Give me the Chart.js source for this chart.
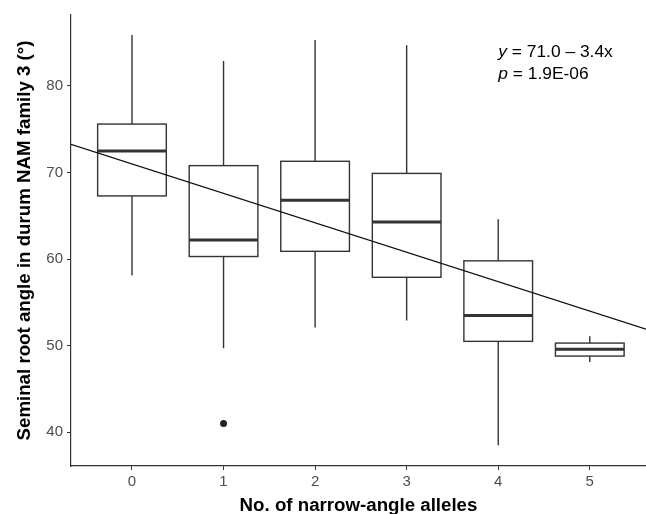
<!DOCTYPE html>
<html>
<head>
<meta charset="utf-8">
<script src="https://cdn.jsdelivr.net/npm/chart.js@4.4.0/dist/chart.umd.min.js"></script>
<style>
  body { margin: 0; background: #fff; }
  canvas { display: block; }
</style>
</head>
<body>
<canvas id="myChart" width="646" height="514"></canvas>
<script>
// number of narrow-angle alleles
var categories = ['0', '1', '2', '3', '4', '5'];
// box statistics per group
var whiskerLow  = [58.1, 49.7, 52.1, 52.9, 38.5, 48.1];
var q1          = [67.3, 60.3, 60.9, 57.9, 50.5, 48.8];
var median      = [72.5, 62.2, 66.8, 64.3, 53.5, 49.6];
var q3          = [75.6, 70.8, 71.3, 69.9, 59.8, 50.3];
var whiskerHigh = [85.9, 82.9, 85.3, 84.7, 64.6, 51.1];
var outliers    = [{x: 1, y: 41.0}];
// linear fit  y = 71.0 - 3.4x
var fitIntercept = 71.0;
var fitSlope = -3.4;
var yTicks = [40, 50, 60, 70, 80];

var xMin = -0.666, xMax = 5.614;
var boxWidth = 0.75;
var fontFamily = '"Liberation Sans", Arial, sans-serif';

var boxPlugin = {
    id: 'boxes',
    beforeDatasetsDraw: function(chart) {
        var ctx = chart.ctx;
        var xs = chart.scales.x, ys = chart.scales.y;
        ctx.save();
        ctx.strokeStyle = '#333333';
        for (var i = 0; i < categories.length; i++) {
            var cx = xs.getPixelForValue(i);
            var left = xs.getPixelForValue(i - boxWidth / 2);
            var right = xs.getPixelForValue(i + boxWidth / 2);
            var yq1 = ys.getPixelForValue(q1[i]);
            var yq3 = ys.getPixelForValue(q3[i]);
            ctx.lineWidth = 1.4;
            ctx.beginPath();
            ctx.moveTo(cx, ys.getPixelForValue(whiskerHigh[i]));
            ctx.lineTo(cx, yq3);
            ctx.moveTo(cx, yq1);
            ctx.lineTo(cx, ys.getPixelForValue(whiskerLow[i]));
            ctx.stroke();
            ctx.fillStyle = '#ffffff';
            ctx.fillRect(left, yq3, right - left, yq1 - yq3);
            ctx.strokeRect(left, yq3, right - left, yq1 - yq3);
            ctx.lineWidth = 3;
            ctx.beginPath();
            var ym = ys.getPixelForValue(median[i]);
            ctx.moveTo(left, ym);
            ctx.lineTo(right, ym);
            ctx.stroke();
        }
        ctx.restore();
    },
    afterDraw: function(chart) {
        var ctx = chart.ctx;
        var xs = chart.scales.x, ys = chart.scales.y;
        var x = xs.getPixelForValue(4.0);
        var y1 = ys.getPixelForValue(83.4);
        var y2 = y1 + 22.5;
        ctx.save();
        ctx.fillStyle = '#000000';
        ctx.textBaseline = 'alphabetic';
        ctx.textAlign = 'left';
        ctx.font = 'italic 17.4px ' + fontFamily;
        ctx.fillText('y', x, y1);
        var w = ctx.measureText('y').width;
        ctx.fillText('p', x, y2);
        var wp = ctx.measureText('p').width;
        ctx.font = '17.4px ' + fontFamily;
        ctx.fillText(' = ' + fitIntercept.toFixed(1) + ' \u2013 ' + Math.abs(fitSlope).toFixed(1) + 'x', x + w, y1);
        ctx.fillText(' = 1.9E-06', x + wp, y2);
        ctx.restore();
    }
};

var ctx = document.getElementById('myChart').getContext('2d');
var myChart = new Chart(ctx, {
    type: 'scatter',
    data: {
        datasets: [{
                type: 'line',
                label: 'Fit',
                data: [{
                    x: xMin,
                    y: fitIntercept + fitSlope * xMin
                }, {
                    x: xMax,
                    y: fitIntercept + fitSlope * xMax
                }],
                borderColor: '#111111',
                borderWidth: 1.3,
                pointRadius: 0,
                fill: false
            },
            {
                label: 'Outliers',
                data: outliers,
                backgroundColor: '#222222',
                borderColor: '#222222',
                pointRadius: 3.5,
                borderWidth: 0
            }
        ]
    },
    options: {
        responsive: false,
        animation: false,
        layout: {
            padding: { top: 15, right: 0, bottom: 0, left: 0 },
            autoPadding: false
        },
        plugins: {
            legend: { display: false },
            tooltip: { enabled: false }
        },
        scales: {
            x: {
                type: 'linear',
                position: 'bottom',
                min: xMin,
                max: xMax,
                afterBuildTicks: function(scale) {
                    scale.ticks = categories.map(function(c, i) { return {value: i}; });
                },
                afterFit: function(scale) { scale.height = 48; },
                ticks: {
                    color: '#4d4d4d',
                    padding: 3,
                    maxRotation: 0,
                    font: { family: fontFamily, size: 15 },
                    callback: function(value) { return categories[value]; }
                },
                grid: {
                    drawOnChartArea: false,
                    drawTicks: true,
                    tickLength: 4,
                    color: '#333333'
                },
                border: { display: true, color: '#333333', width: 1.2 },
                title: {
                    display: true,
                    text: 'No. of narrow-angle alleles',
                    color: '#000000',
                    padding: { top: 0, bottom: 0 },
                    font: { family: fontFamily, size: 18.7, weight: 'bold', lineHeight: 0.9 }
                }
            },
            y: {
                min: 36.1,
                max: 88.2,
                afterBuildTicks: function(scale) {
                    scale.ticks = yTicks.map(function(v) { return {value: v}; });
                },
                afterFit: function(scale) { scale.width = 71; },
                ticks: {
                    color: '#4d4d4d',
                    padding: 4,
                    font: { family: fontFamily, size: 15 }
                },
                grid: {
                    drawOnChartArea: false,
                    drawTicks: true,
                    tickLength: 4,
                    color: '#333333'
                },
                border: { display: true, color: '#333333', width: 1.2 },
                title: {
                    display: true,
                    text: 'Seminal root angle in durum NAM family 3 (°)',
                    color: '#000000',
                    padding: { top: 16, bottom: 0 },
                    font: { family: fontFamily, size: 18.7, weight: 'bold', lineHeight: 0.9 }
                }
            }
        }
    },
    plugins: [boxPlugin]
});
</script>
</body>
</html>
